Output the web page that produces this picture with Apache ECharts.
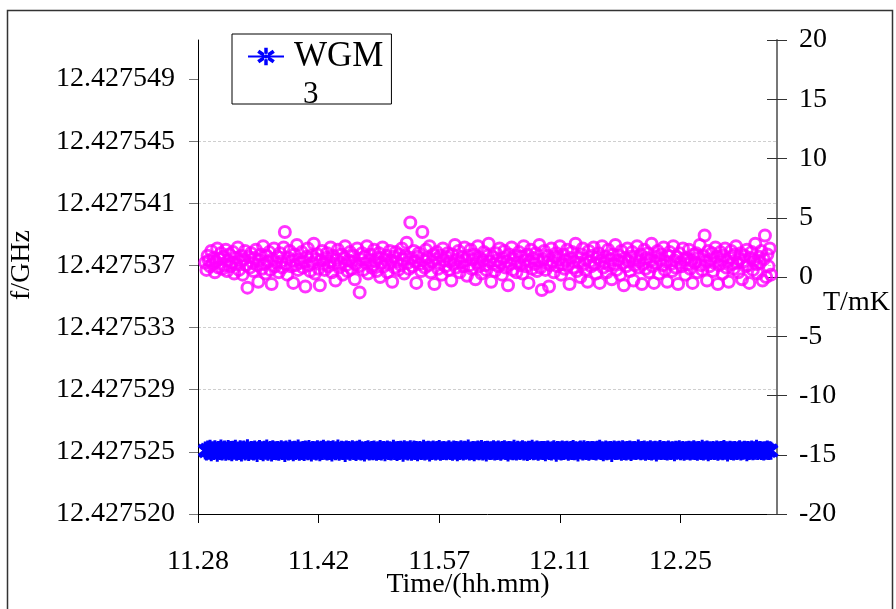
<!DOCTYPE html>
<html><head><meta charset="utf-8">
<script src="https://cdn.jsdelivr.net/npm/echarts@6/dist/echarts.min.js"></script>
<style>html,body{margin:0;padding:0;background:#fff}#c{width:896px;height:609px}</style>
</head><body><div id="c"></div>
<script>
// ---- data ----
const timeLabels = ['11.28', '11.42', '11.57', '12.11', '12.25'];
const timeLabelStep = 100;     // samples between time labels
const sampleStart = 6;         // index of first sample on the time axis
const sampleEnd = 480;         // time axis extent (samples)
const fTickLabels = ['12.427520', '12.427525', '12.427529', '12.427533', '12.427537', '12.427541', '12.427545', '12.427549'];
const fMin = 12.4275204;
const fStep = 0.00000412;
const fSpan = 7.628;           // axis height in tick steps
const tMin = -20, tMax = 20, tStep = 5;
const seriesName = 'WGM 3';

// f/GHz of WGM 3
const wgm3 = [
12.42752461,12.42752454,12.42752467,12.42752459,12.42752472,12.42752450,12.42752463,12.42752457,12.42752469,12.42752461,12.42752446,12.42752465,12.42752458,12.42752474,12.42752455,12.42752462,12.42752468,12.42752452,12.42752460,12.42752471,
12.42752456,12.42752464,12.42752449,12.42752466,12.42752460,12.42752473,12.42752453,12.42752461,12.42752458,12.42752470,12.42752447,12.42752463,12.42752467,12.42752455,12.42752461,12.42752476,12.42752451,12.42752459,12.42752465,12.42752462,
12.42752454,12.42752468,12.42752460,12.42752445,12.42752463,12.42752471,12.42752457,12.42752462,12.42752450,12.42752466,12.42752459,12.42752474,12.42752453,12.42752461,12.42752464,12.42752448,12.42752469,12.42752458,12.42752462,12.42752456,
12.42752465,12.42752452,12.42752461,12.42752470,12.42752457,12.42752463,12.42752444,12.42752467,12.42752460,12.42752455,12.42752472,12.42752459,12.42752462,12.42752449,12.42752466,12.42752458,12.42752463,12.42752475,12.42752453,12.42752461,
12.42752458,12.42752464,12.42752451,12.42752468,12.42752462,12.42752456,12.42752471,12.42752460,12.42752447,12.42752465,12.42752459,12.42752463,12.42752454,12.42752469,12.42752461,12.42752450,12.42752466,12.42752457,12.42752473,12.42752460,
12.42752462,12.42752455,12.42752467,12.42752458,12.42752464,12.42752448,12.42752470,12.42752461,12.42752456,12.42752463,12.42752474,12.42752452,12.42752460,12.42752466,12.42752457,12.42752462,12.42752445,12.42752468,12.42752459,12.42752464,
12.42752453,12.42752461,12.42752469,12.42752457,12.42752463,12.42752451,12.42752466,12.42752460,12.42752472,12.42752455,12.42752462,12.42752458,12.42752447,12.42752465,12.42752461,12.42752470,12.42752454,12.42752459,12.42752464,12.42752456,
12.42752467,12.42752460,12.42752452,12.42752463,12.42752458,12.42752471,12.42752455,12.42752462,12.42752465,12.42752449,12.42752461,12.42752468,12.42752457,12.42752463,12.42752454,12.42752460,12.42752473,12.42752458,12.42752462,12.42752451,
12.42752464,12.42752457,12.42752466,12.42752461,12.42752446,12.42752469,12.42752459,12.42752463,12.42752455,12.42752462,12.42752470,12.42752453,12.42752460,12.42752467,12.42752458,12.42752464,12.42752450,12.42752461,12.42752465,12.42752457,
12.42752460,12.42752472,12.42752454,12.42752462,12.42752459,12.42752466,12.42752448,12.42752463,12.42752457,12.42752468,12.42752461,12.42752455,12.42752464,12.42752460,12.42752471,12.42752452,12.42752462,12.42752458,12.42752465,12.42752459,
12.42752456,12.42752463,12.42752470,12.42752458,12.42752461,12.42752453,12.42752467,12.42752460,12.42752464,12.42752449,12.42752462,12.42752457,12.42752469,12.42752461,12.42752455,12.42752466,12.42752459,12.42752463,12.42752474,12.42752454,
12.42752461,12.42752458,12.42752465,12.42752450,12.42752463,12.42752460,12.42752468,12.42752456,12.42752462,12.42752471,12.42752454,12.42752459,12.42752464,12.42752447,12.42752466,12.42752461,12.42752457,12.42752463,12.42752460,12.42752469,
12.42752455,12.42752462,12.42752458,12.42752467,12.42752460,12.42752452,12.42752464,12.42752461,12.42752470,12.42752457,12.42752463,12.42752448,12.42752465,12.42752459,12.42752462,12.42752456,12.42752472,12.42752460,12.42752454,12.42752466,
12.42752461,12.42752457,12.42752463,12.42752469,12.42752455,12.42752462,12.42752460,12.42752451,12.42752466,12.42752458,12.42752464,12.42752473,12.42752456,12.42752461,12.42752459,12.42752467,12.42752453,12.42752462,12.42752460,12.42752465,
12.42752458,12.42752464,12.42752450,12.42752462,12.42752468,12.42752457,12.42752461,12.42752455,12.42752463,12.42752470,12.42752459,12.42752446,12.42752465,12.42752460,12.42752462,12.42752454,12.42752467,12.42752458,12.42752463,12.42752461,
12.42752466,12.42752453,12.42752460,12.42752464,12.42752458,12.42752471,12.42752456,12.42752462,12.42752459,12.42752448,12.42752463,12.42752467,12.42752461,12.42752455,12.42752469,12.42752460,12.42752457,12.42752464,12.42752452,12.42752462,
12.42752460,12.42752465,12.42752457,12.42752462,12.42752454,12.42752466,12.42752461,12.42752472,12.42752458,12.42752463,12.42752450,12.42752460,12.42752467,12.42752456,12.42752462,12.42752459,12.42752464,12.42752445,12.42752461,12.42752468,
12.42752457,12.42752463,12.42752459,12.42752466,12.42752461,12.42752453,12.42752470,12.42752458,12.42752462,12.42752455,12.42752464,12.42752460,12.42752468,12.42752451,12.42752463,12.42752459,12.42752465,12.42752457,12.42752461,12.42752474,
12.42752462,12.42752456,12.42752464,12.42752459,12.42752467,12.42752452,12.42752461,12.42752463,12.42752458,12.42752469,12.42752455,12.42752462,12.42752460,12.42752466,12.42752448,12.42752463,12.42752459,12.42752471,12.42752457,12.42752461,
12.42752464,12.42752458,12.42752462,12.42752455,12.42752468,12.42752460,12.42752457,12.42752463,12.42752461,12.42752450,12.42752466,12.42752459,12.42752462,12.42752470,12.42752456,12.42752461,12.42752465,12.42752453,12.42752460,12.42752463,
12.42752459,12.42752466,12.42752454,12.42752462,12.42752460,12.42752469,12.42752457,12.42752463,12.42752452,12.42752464,12.42752461,12.42752458,12.42752472,12.42752455,12.42752462,12.42752460,12.42752467,12.42752449,12.42752463,12.42752458,
12.42752461,12.42752464,12.42752457,12.42752460,12.42752468,12.42752453,12.42752462,12.42752459,12.42752465,12.42752456,12.42752471,12.42752460,12.42752463,12.42752447,12.42752461,12.42752466,12.42752458,12.42752462,12.42752455,12.42752464,
12.42752460,12.42752457,12.42752463,12.42752469,12.42752454,12.42752461,12.42752459,12.42752466,12.42752462,12.42752450,12.42752464,12.42752458,12.42752461,12.42752467,12.42752456,12.42752463,12.42752460,12.42752473,12.42752457,12.42752462,
12.42752465,12.42752458,12.42752461,12.42752455,12.42752463,12.42752460,12.42752468,12.42752457,12.42752462,12.42752459
];

// T/mK
const temperature = [
1.2,0.6,1.8,1.4,0.9,2.2,1.1,1.6,0.4,1.3,2.4,0.8,1.5,2.0,0.7,1.7,1.0,2.3,0.5,1.4,
1.9,0.9,1.2,2.1,0.3,1.6,1.1,2.5,0.6,1.3,1.8,0.2,1.5,2.2,1.0,-0.9,1.7,0.8,2.0,1.2,
0.5,1.6,2.3,1.0,-0.4,1.4,1.9,0.7,2.6,1.1,0.3,1.8,1.3,2.1,0.6,-0.6,1.5,2.4,0.9,1.2,
1.7,0.4,2.0,1.3,0.8,2.5,3.8,1.1,0.2,1.6,2.2,0.9,1.4,-0.5,1.9,1.0,2.7,0.6,1.5,1.2,
2.1,0.8,1.3,-0.8,1.7,2.4,1.0,0.5,1.8,1.2,2.8,0.3,1.5,1.9,0.7,-0.7,1.4,2.2,1.1,0.6,
1.6,2.0,0.9,1.3,2.5,0.4,1.8,1.1,-0.3,1.5,2.3,0.8,1.2,1.9,0.2,1.6,2.6,1.0,0.5,1.4,
2.1,0.7,1.3,1.8,-0.2,1.1,2.4,0.9,-1.3,1.5,2.0,0.6,1.7,1.2,2.6,0.3,1.4,1.9,0.8,1.0,
2.3,1.3,0.5,1.6,2.0,0.0,1.2,2.5,0.9,1.5,1.8,0.4,1.1,2.2,1.4,-0.4,1.7,0.8,2.1,1.3,
0.6,1.9,1.0,2.4,1.5,0.3,1.8,2.9,1.2,0.7,4.6,1.6,0.9,2.2,1.3,-0.5,1.7,2.0,1.1,0.5,
3.8,1.4,0.8,2.3,1.6,1.0,2.6,0.4,1.3,1.9,-0.6,1.5,2.1,0.7,1.2,1.8,0.2,2.4,1.4,0.9,
1.7,2.0,0.6,1.3,-0.3,1.9,1.1,2.7,0.8,1.5,2.2,0.4,1.2,1.7,0.9,2.5,1.4,0.1,1.8,1.0,
2.3,0.7,1.5,1.9,-0.2,1.2,2.6,0.9,1.6,0.3,1.4,2.1,1.0,0.6,1.8,2.8,1.3,-0.4,1.7,1.1,
0.5,2.0,1.4,0.9,2.4,1.2,0.2,1.6,2.2,0.8,1.3,-0.7,1.9,1.1,2.5,0.6,1.5,1.8,0.4,1.2,
2.1,1.0,1.7,0.3,2.6,1.4,0.9,1.9,-0.5,1.3,2.3,0.7,1.6,1.1,2.0,0.5,1.4,2.7,0.8,-1.1,
1.5,2.2,0.6,1.2,1.8,-0.8,1.0,2.4,1.3,0.4,1.7,2.0,0.9,1.5,2.6,0.2,1.1,1.9,0.7,1.4,
2.3,1.0,-0.6,1.6,2.1,0.8,1.3,2.8,0.5,1.7,1.2,0.0,1.9,2.4,1.1,0.6,1.5,-0.4,2.2,1.3,
0.9,1.8,2.5,1.1,0.3,1.6,2.0,-0.5,1.4,2.6,0.8,1.2,1.7,0.4,2.3,1.0,1.5,-0.2,1.9,1.1,
2.7,0.6,1.4,1.8,0.2,2.2,1.2,-0.7,1.6,0.9,2.4,1.3,0.5,1.7,2.1,-0.3,1.0,1.5,2.6,0.8,
1.3,1.9,-0.6,1.1,2.3,0.7,1.6,2.0,0.4,1.4,2.8,0.9,-0.5,1.7,1.2,2.2,0.3,1.5,1.9,1.0,
2.5,0.6,1.3,-0.4,1.8,2.1,1.1,0.5,2.6,1.4,0.8,1.7,-0.6,2.0,1.2,0.9,2.4,1.5,0.2,1.6,
1.1,2.3,0.7,1.4,-0.5,1.9,1.2,2.0,0.4,1.6,2.7,1.0,0.6,1.8,3.5,1.3,-0.3,2.2,0.9,1.5,
2.0,0.5,1.2,2.5,1.7,-0.6,1.0,2.1,1.4,0.3,1.8,2.4,0.8,1.3,-0.4,1.6,2.2,1.1,0.7,1.9,
2.6,1.2,0.4,1.5,2.0,-0.2,1.3,1.8,0.9,2.3,1.0,-0.5,1.6,2.1,0.6,1.4,2.8,1.1,0.3,1.7,
1.2,2.2,-0.3,1.5,3.5,0.0,1.9,0.9,2.4,0.2
];

// ---- chart ----
const FONT = "'Liberation Serif','Times New Roman',serif";
const pair = arr => arr.map((v, i) => [sampleStart + i, v]);
const fTickValues = fTickLabels.map((_, k) => fMin + k * fStep);
const starPath = 'path://M8.2,0L11.8,0L11.8,20L8.2,20Z M0.9,5.8L16.9,17.8L19.1,14.2L3.1,2.2Z M3.1,17.8L19.1,5.8L16.9,2.2L0.9,14.2Z';

const chart = echarts.init(document.getElementById('c'), null, {renderer: 'canvas'});
chart.setOption({
  animation: false,
  backgroundColor: '#fff',
  textStyle: {fontFamily: FONT},
  grid: {left: 198, right: 119, top: 40, bottom: 95, containLabel: false, outerBoundsMode: 'none'},
  legend: {
    data: [seriesName],
    formatter: () => 'WGM',
    left: 232, top: 34,
    padding: [5, 8, 30, 15],
    itemWidth: 36, itemHeight: 22,
    borderColor: '#000', borderWidth: 1, borderRadius: 0,
    backgroundColor: '#fff',
    textStyle: {fontFamily: FONT, fontSize: 35, color: '#000', padding: [0, 0, 0, 5]}
  },
  xAxis: {
    type: 'value', min: 0, max: sampleEnd, interval: timeLabelStep,
    name: 'Time/(hh.mm)', nameLocation: 'middle', nameGap: 57, nameMoveOverlap: false,
    nameTextStyle: {fontFamily: FONT, fontSize: 28, color: '#000', padding: [0, 39, 0, 0]},
    axisLine: {onZero: false, lineStyle: {color: '#000', width: 1}},
    axisTick: {inside: false, length: 9, lineStyle: {color: '#000'}},
    axisLabel: {margin: 34, fontFamily: FONT, fontSize: 28, color: '#000', showMaxLabel: false,
      formatter: v => { const k = Math.round(v / timeLabelStep); return (Math.abs(v - k * timeLabelStep) < 1e-6 && timeLabels[k]) || ''; }},
    splitLine: {show: false}
  },
  yAxis: [{
    type: 'value', position: 'left', min: fMin, max: fMin + fSpan * fStep, interval: fStep,
    name: 'f/GHz', nameLocation: 'middle', nameGap: 162, nameMoveOverlap: false,
    nameTextStyle: {fontFamily: FONT, fontSize: 28, color: '#000', padding: [0, 0, 0, 24]},
    axisLine: {show: true, onZero: false, lineStyle: {color: '#000', width: 1}},
    axisTick: {show: true, inside: false, length: 9, lineStyle: {color: '#777'}, customValues: fTickValues},
    axisLabel: {margin: 23, fontFamily: FONT, fontSize: 28, color: '#000', customValues: fTickValues,
      formatter: v => fTickLabels[Math.round((v - fMin) / fStep)] || ''},
    splitLine: {show: true, showMinLine: false, showMaxLine: false, lineStyle: {color: '#cfcfcf', width: 1, type: [3, 2]}}
  }, {
    type: 'value', position: 'right', min: tMin, max: tMax, interval: tStep,
    name: 'T/mK', nameLocation: 'middle', nameRotate: 0, nameGap: 46, nameMoveOverlap: false,
    nameTextStyle: {fontFamily: FONT, fontSize: 28, color: '#000', align: 'left', verticalAlign: 'top', padding: [12, 0, 0, 0]},
    axisLine: {show: true, onZero: false, lineStyle: {color: '#777', width: 2}},
    axisTick: {show: true, inside: false, length: 10, lineStyle: {color: '#333'}},
    axisLabel: {margin: 22, fontFamily: FONT, fontSize: 28, color: '#000', align: 'left'},
    splitLine: {show: false}
  }, {
    type: 'value', position: 'right', min: tMin, max: tMax, interval: tStep,
    axisLine: {show: false, onZero: false},
    axisTick: {show: true, inside: true, length: 10, lineStyle: {color: '#333'}},
    axisLabel: {show: false},
    splitLine: {show: false}
  }],
  series: [{
    name: 'T', type: 'scatter', yAxisIndex: 1,
    data: pair(temperature),
    symbol: 'circle', symbolSize: 11,
    itemStyle: {color: 'rgba(255,0,255,0)', borderColor: '#FF00FF', borderWidth: 3},
    z: 3
  }, {
    name: seriesName, type: 'line', yAxisIndex: 0,
    data: pair(wgm3),
    showAllSymbol: true,
    symbol: starPath, symbolSize: [15, 18],
    lineStyle: {color: '#0000FF', width: 1},
    itemStyle: {color: '#0000FF'},
    z: 4
  }],
  graphic: [{
    type: 'rect', silent: true,
    shape: {x: 7.5, y: 10.5, width: 885, height: 610},
    style: {fill: 'none', stroke: '#333', lineWidth: 1.5}
  }, {
    type: 'text', left: 303, top: 79, z: 100,
    style: {text: '3', font: "31px 'Liberation Serif', serif", fill: '#000'}
  }]
});
</script>
</body></html>
